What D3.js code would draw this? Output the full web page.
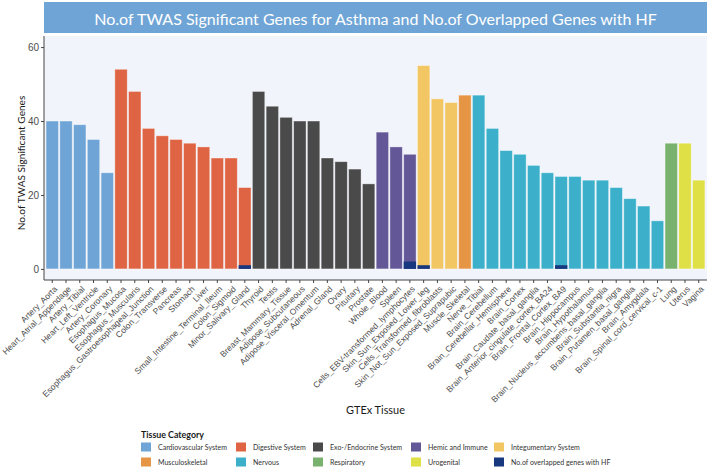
<!DOCTYPE html>
<html lang="en">
<head>
<meta charset="UTF-8">
<script src="https://cdn.jsdelivr.net/npm/d3@7"></script>
<style>
  body { margin: 0; background: #fff; }
  svg { font-family: Lato, "Open Sans", sans-serif; }
</style>
</head>
<body>
<div id="chart"></div>
<script>
// GTEx tissues, in plotted order
const tissues = [
  "Artery_Aorta", "Heart_Atrial_Appendage", "Artery_Tibial", "Heart_Left_Ventricle", "Artery_Coronary",
  "Esophagus_Mucosa", "Esophagus_Muscularis", "Esophagus_Gastroesophageal_Junction", "Colon_Transverse",
  "Pancreas", "Stomach", "Liver", "Small_Intestine_Terminal_Ileum", "Colon_Sigmoid", "Minor_Salivary_Gland",
  "Thyroid", "Testis", "Breast_Mammary_Tissue", "Adipose_Subcutaneous", "Adipose_Visceral_Omentum",
  "Adrenal_Gland", "Ovary", "Pituitary", "Prostate",
  "Whole_Blood", "Spleen", "Cells_EBV-transformed_lymphocytes",
  "Skin_Sun_Exposed_Lower_leg", "Cells_Transformed_fibroblasts", "Skin_Not_Sun_Exposed_Suprapubic",
  "Muscle_Skeletal",
  "Nerve_Tibial", "Brain_Cerebellum", "Brain_Cerebellar_Hemisphere", "Brain_Cortex",
  "Brain_Caudate_basal_ganglia", "Brain_Anterior_cingulate_cortex_BA24", "Brain_Frontal_Cortex_BA9",
  "Brain_Hippocampus", "Brain_Hypothalamus", "Brain_Nucleus_accumbens_basal_ganglia",
  "Brain_Substantia_nigra", "Brain_Putamen_basal_ganglia", "Brain_Amygdala", "Brain_Spinal_cord_cervical_c-1",
  "Lung",
  "Uterus", "Vagina"
];

// No. of TWAS significant genes per tissue
const sigGenes = [
  40, 40, 39, 35, 26,
  54, 48, 38, 36, 35, 34, 33, 30, 30, 22,
  48, 44, 41, 40, 40, 30, 29, 27, 23,
  37, 33, 31,
  55, 46, 45,
  47,
  47, 38, 32, 31, 28, 26, 25, 25, 24, 24, 22, 19, 17, 13,
  34,
  34, 24
];

// No. of overlapped genes with HF
const overlapGenes = [
  0, 0, 0, 0, 0,
  0, 0, 0, 0, 0, 0, 0, 0, 0, 1,
  0, 0, 0, 0, 0, 0, 0, 0, 0,
  0, 0, 2,
  1, 0, 0,
  0,
  0, 0, 0, 0, 0, 0, 1, 0, 0, 0, 0, 0, 0, 0,
  0,
  0, 0
];

// category of each tissue
const tissueCategory = [
  ...Array(5).fill("Cardiovascular System"),
  ...Array(10).fill("Digestive System"),
  ...Array(9).fill("Exo-/Endocrine System"),
  ...Array(3).fill("Hemic and Immune"),
  ...Array(3).fill("Integumentary System"),
  "Musculoskeletal",
  ...Array(14).fill("Nervous"),
  "Respiratory",
  "Urogenital", "Urogenital"
];

const legendLabels = [
  "Cardiovascular System", "Digestive System", "Exo-/Endocrine System", "Hemic and Immune", "Integumentary System",
  "Musculoskeletal", "Nervous", "Respiratory", "Urogenital", "No.of overlapped genes with HF"
];
const legendColors = [
  "#6fa5d6", "#df6443", "#4a4a4a", "#635797", "#f2c662",
  "#e69544", "#3cb0cb", "#78b26e", "#dfe046", "#17387e"
];

const yTicks = [0, 20, 40, 60];

const width = 708, height = 468;
const panel = { left: 44, right: 707, top: 36, bottom: 280 };

// scale a text's font size so it spans the wanted width
function fitFont(textSel, wanted) {
  const base = +textSel.attr("font-size");
  const len = textSel.node().getComputedTextLength();
  return base * wanted / len;
}

const color = d3.scaleOrdinal().domain(legendLabels).range(legendColors);

const x = d3.scaleBand()
  .domain(tissues)
  .range([panel.left, panel.right])
  .paddingInner(0.1)
  .paddingOuter(0.15);

const y = d3.scaleLinear()
  .domain([-3, 63])
  .range([panel.bottom, panel.top]);

const svg = d3.select("#chart").append("svg")
  .attr("width", width)
  .attr("height", height);

// title bar
svg.append("rect")
  .attr("x", panel.left).attr("y", 2)
  .attr("width", panel.right - panel.left).attr("height", 31)
  .attr("fill", "#6fa5d6");
const title = svg.append("text")
  .attr("x", (panel.left + panel.right) / 2).attr("y", 18)
  .attr("text-anchor", "middle").attr("dominant-baseline", "central")
  .attr("fill", "#fff").attr("font-size", 15)
  .text("No.of TWAS Significant Genes for Asthma and No.of Overlapped Genes with HF");
title.attr("font-size", fitFont(title, 563));

// panel background
svg.append("rect")
  .attr("x", panel.left).attr("y", panel.top)
  .attr("width", panel.right - panel.left).attr("height", panel.bottom - panel.top)
  .attr("fill", "#f1f4fb");

const rows = tissues.map((t, i) => ({ tissue: t, value: sigGenes[i], overlap: overlapGenes[i], cat: tissueCategory[i] }));

svg.append("g").selectAll("rect")
  .data(rows)
  .enter().append("rect")
  .attr("x", d => x(d.tissue))
  .attr("width", x.bandwidth())
  .attr("y", d => y(d.value))
  .attr("height", d => y(0) - y(d.value))
  .attr("fill", d => color(d.cat))
  .attr("stroke", "rgba(255,255,255,0.45)")
  .attr("stroke-width", 0.8);

svg.append("g").selectAll("rect")
  .data(rows.filter(d => d.overlap > 0))
  .enter().append("rect")
  .attr("x", d => x(d.tissue))
  .attr("width", x.bandwidth())
  .attr("y", d => y(d.overlap))
  .attr("height", d => y(0) - y(d.overlap))
  .attr("fill", color("No.of overlapped genes with HF"));

// y axis
const yAxis = svg.append("g")
  .attr("transform", `translate(${panel.left},0)`)
  .call(d3.axisLeft(y).tickValues(yTicks).tickSize(3).tickSizeOuter(0));
yAxis.select(".domain").attr("stroke", "#444").attr("d", `M0,${panel.top}V${panel.bottom}`);
yAxis.selectAll(".tick line").attr("stroke", "#444");
yAxis.selectAll(".tick text").attr("fill", "#4d4d4d").attr("font-size", 10).attr("x", -5);

// x axis
const xAxis = svg.append("g")
  .attr("transform", `translate(0,${panel.bottom})`)
  .call(d3.axisBottom(x).tickSize(3).tickSizeOuter(0));
xAxis.select(".domain").attr("stroke", "#444").attr("d", `M${panel.left},0H${panel.right}`);
xAxis.selectAll(".tick line").attr("stroke", "#444");
const xLabels = xAxis.selectAll(".tick text")
  .attr("fill", "#4d4d4d").attr("font-size", 9)
  .attr("text-anchor", "end")
  .attr("y", 0).attr("dy", "0.6em")
  .attr("transform", "translate(2,6) rotate(-45)");
const xFont = fitFont(xLabels.filter(d => d === "Esophagus_Gastroesophageal_Junction"), 153);
xLabels.attr("font-size", xFont);

// axis titles
const yTitle = svg.append("text")
  .attr("transform", `translate(21,${(panel.top + panel.bottom) / 2 + 5}) rotate(-90)`)
  .attr("text-anchor", "middle").attr("dominant-baseline", "central")
  .attr("font-size", 11.5).attr("fill", "#1a1a1a")
  .text("No.of TWAS Significant Genes");
yTitle.attr("font-size", fitFont(yTitle, 135));
const xTitle = svg.append("text")
  .attr("x", (panel.left + panel.right) / 2).attr("y", 409)
  .attr("text-anchor", "middle").attr("dominant-baseline", "central")
  .attr("font-size", 11.5).attr("fill", "#1a1a1a")
  .text("GTEx Tissue");
xTitle.attr("font-size", fitFont(xTitle, 59));

// legend
const legend = svg.append("g");
const legTitle = legend.append("text")
  .attr("x", 141).attr("y", 434)
  .attr("dominant-baseline", "central")
  .attr("font-size", 10).attr("font-weight", 700).attr("fill", "#1a1a1a")
  .text("Tissue Category");
legTitle.attr("font-size", fitFont(legTitle, 63));

const colX = [141, 236, 313, 411, 494];
const rowY = [447, 462];
const legTexts = [];
legendLabels.forEach((lab, i) => {
  const cx = colX[i % 5], cy = rowY[Math.floor(i / 5)];
  legend.append("rect")
    .attr("x", cx).attr("y", cy - 4.5)
    .attr("width", 10).attr("height", 9)
    .attr("fill", legendColors[i]);
  legTexts.push(legend.append("text")
    .attr("x", cx + 17).attr("y", cy)
    .attr("dominant-baseline", "central")
    .attr("font-size", 8).attr("fill", "#333")
    .text(lab));
});
const legFont = fitFont(legTexts[0], 69);
legTexts.forEach(t => t.attr("font-size", legFont));
</script>
</body>
</html>
